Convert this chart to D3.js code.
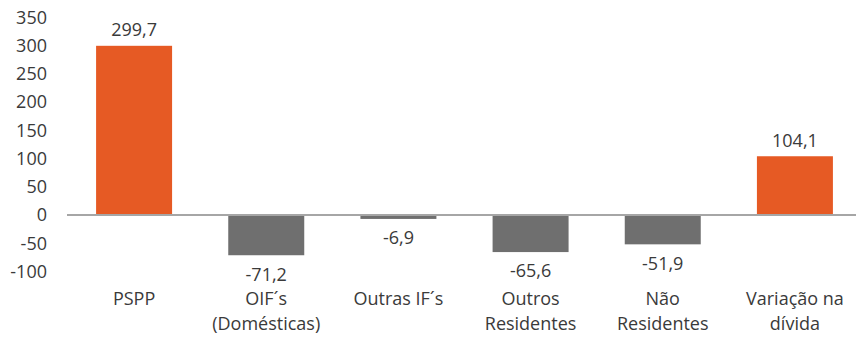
<!DOCTYPE html>
<html>
<head>
<meta charset="utf-8">
<script src="https://cdn.jsdelivr.net/npm/d3@7"></script>
<style>
  html, body { margin: 0; padding: 0; background: #ffffff; }
  svg { display: block; font-family: "Open Sans", "Noto Sans", sans-serif; }
</style>
</head>
<body>
<svg id="chart" width="856" height="337"></svg>
<script>
// Contributions to the change in debt (values shown with comma decimals)
const categories = [
  ["PSPP"],
  ["OIF´s", "(Domésticas)"],
  ["Outras IF´s"],
  ["Outros", "Residentes"],
  ["Não", "Residentes"],
  ["Variação na", "dívida"]
];
const values = [299.7, -71.2, -6.9, -65.6, -51.9, 104.1];
const totals = [true, false, false, false, false, true];
const yTicks = [350, 300, 250, 200, 150, 100, 50, 0, -50, -100];

const W = 856, H = 337;
const textColor = "#3A3A3A";
const orange = "#E65A24";
const grey = "#6F6F6F";

const svg = d3.select("#chart");

const x = d3.scaleBand()
  .domain(d3.range(values.length))
  .range([68, 861])
  .paddingInner(0.425)
  .paddingOuter(0.2125);

const y = d3.scaleLinear()
  .domain([-100, 350])
  .range([271.5, 17.4]);

// y axis labels (no line, no ticks), plain hyphen for negatives
const yAxis = d3.axisLeft(y)
  .tickValues(yTicks)
  .tickFormat(d => String(d))
  .tickSize(0)
  .tickPadding(0);
const yg = svg.append("g").attr("transform", "translate(47,0)").call(yAxis);
yg.select(".domain").remove();
yg.selectAll("text")
  .attr("fill", textColor)
  .style("font-size", "18px")
  .style("font-family", "'Open Sans', sans-serif");

// bars
svg.append("g").selectAll("rect")
  .data(values)
  .join("rect")
  .attr("x", (d, i) => x(i))
  .attr("width", x.bandwidth())
  .attr("y", d => y(Math.max(0, d)))
  .attr("height", d => Math.abs(y(d) - y(0)))
  .attr("fill", (d, i) => totals[i] ? orange : grey);

// zero baseline
svg.append("line")
  .attr("x1", 67).attr("x2", W)
  .attr("y1", y(0)).attr("y2", y(0))
  .attr("stroke", "#A6A6A6")
  .attr("stroke-width", 2);

// value labels
const fmt = v => (v < 0 ? "-" : "") + d3.format(".1f")(Math.abs(v)).replace(".", ",");
svg.append("g").selectAll("text")
  .data(values)
  .join("text")
  .attr("x", (d, i) => x(i) + x.bandwidth() / 2)
  .attr("y", d => d >= 0 ? y(d) - 16 : y(d) + 19)
  .attr("dy", "0.35em")
  .attr("text-anchor", "middle")
  .attr("fill", textColor)
  .style("font-size", "18px")
  .text(d => fmt(d));

// category labels
const cat = svg.append("g").selectAll("text")
  .data(categories)
  .join("text")
  .attr("x", (d, i) => x(i) + x.bandwidth() / 2)
  .attr("y", 299)
  .attr("text-anchor", "middle")
  .attr("fill", textColor)
  .style("font-size", "18px");
cat.selectAll("tspan")
  .data(d => d)
  .join("tspan")
  .attr("x", function () { return d3.select(this.parentNode).attr("x"); })
  .attr("dy", (d, i) => i === 0 ? "0.35em" : "25px")
  .text(d => d);
</script>
</body>
</html>
